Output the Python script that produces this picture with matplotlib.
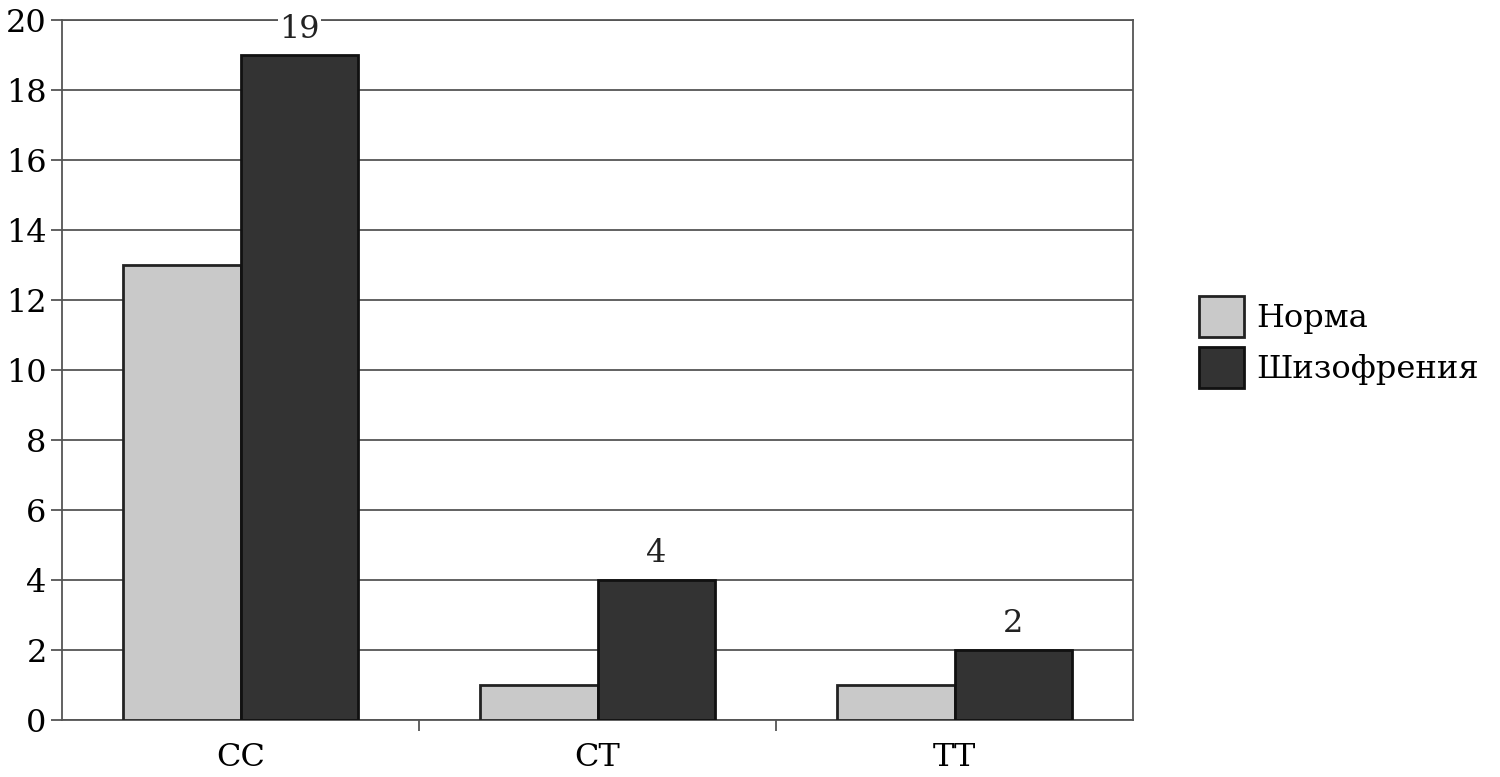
import numpy as np
import matplotlib
matplotlib.use("Agg")
import matplotlib.pyplot as plt

genotypes = ["CC", "CT", "TT"]
norm_counts = [13, 1, 1]
schizo_counts = [19, 4, 2]
series_names = ["Норма", "Шизофрения"]

plt.rcParams['font.family'] = ['DejaVu Serif']

fig = plt.figure(figsize=(15, 7.77), dpi=100)
ax = fig.add_axes([62 / 1500, 57 / 777, (1133 - 62) / 1500, 700 / 777])

x = np.arange(len(genotypes))
w = 0.33
ax.bar(x - w / 2, norm_counts, w, color="#c9c9c9", edgecolor="#222222", linewidth=2,
       label=series_names[0], zorder=3)
bars = ax.bar(x + w / 2, schizo_counts, w, color="#333333", edgecolor="#111111", linewidth=2,
              label=series_names[1], zorder=3)

# labels only on the dark bars
for b, v in zip(bars, schizo_counts):
    ax.text(b.get_x() + b.get_width() / 2, v + 0.3, str(v), ha="center", va="bottom",
            fontsize=23, color="#222222", zorder=4,
            bbox=dict(facecolor="white", edgecolor="none", pad=1))

ax.set_xlim(-0.5, 2.5)
ax.set_ylim(0, 20)
ax.set_yticks(range(0, 21, 2))
ax.yaxis.grid(True, color="#555555", linewidth=1.3, zorder=0)
ax.set_axisbelow(True)

ax.set_xticks(x)
ax.set_xticklabels(genotypes)
ax.set_xticks([0.5, 1.5], minor=True)
ax.tick_params(axis="x", which="major", length=0, pad=16, labelsize=23)
ax.tick_params(axis="x", which="minor", length=8, width=1.3, color="#555555")
ax.tick_params(axis="y", length=8, width=1.3, color="#555555", labelsize=23, pad=3)

for side in ["left", "bottom", "right", "top"]:
    ax.spines[side].set_color("#555555")
    ax.spines[side].set_linewidth(1.3)

ax.legend(loc="center left", bbox_to_anchor=(1.035, 0.54), frameon=False, fontsize=23,
          handlelength=1.4, handleheight=1.6, handletextpad=0.4, labelspacing=0.3)

fig.savefig("out.png", dpi=100)
